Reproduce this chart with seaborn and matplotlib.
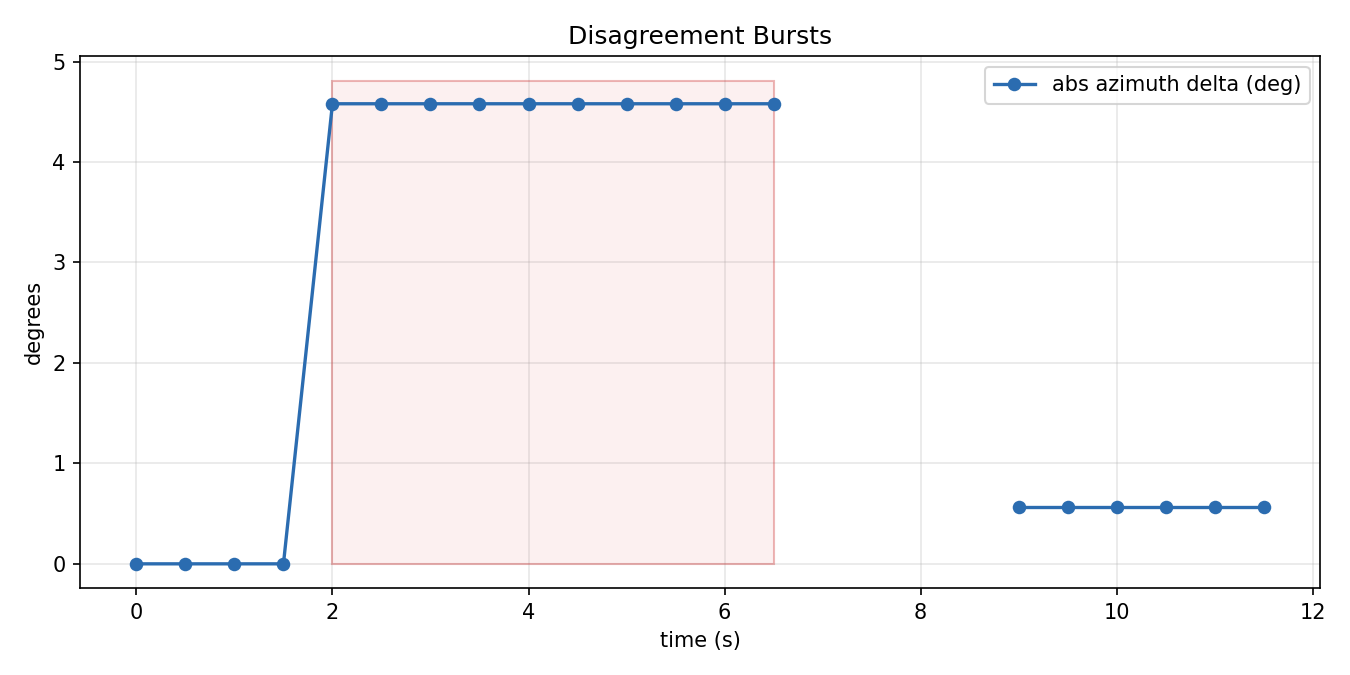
import numpy as np
import pandas as pd
import matplotlib
matplotlib.use("Agg")
import matplotlib.pyplot as plt
from matplotlib.patches import Rectangle
import seaborn as sns

time_a = [0.0, 0.5, 1.0, 1.5, 2.0, 2.5, 3.0, 3.5, 4.0, 4.5, 5.0, 5.5, 6.0, 6.5]
delta_a = [0.0, 0.0, 0.0, 0.0, 4.58, 4.58, 4.58, 4.58, 4.58, 4.58, 4.58, 4.58, 4.58, 4.58]
time_b = [9.0, 9.5, 10.0, 10.5, 11.0, 11.5]
delta_b = [0.57, 0.57, 0.57, 0.57, 0.57, 0.57]
burst_start = 2.0
burst_end = 6.5
burst_top = 4.81

color = "#2b6cb0"

fig, ax = plt.subplots(figsize=(9, 4.5), dpi=150)
fig.subplots_adjust(left=0.0593, right=0.9778, top=0.9163, bottom=0.1289)

ax.add_patch(Rectangle((burst_start, 0), burst_end - burst_start, burst_top,
                       facecolor=(0.86, 0.2, 0.2, 0.07),
                       edgecolor=(0.8, 0.2, 0.2, 0.35), linewidth=1.0, zorder=1))

df_a = pd.DataFrame({"t": time_a, "v": delta_a})
df_b = pd.DataFrame({"t": time_b, "v": delta_b})
sns.lineplot(data=df_a, x="t", y="v", ax=ax, color=color, marker="o",
             markersize=6.5, markeredgewidth=0, linewidth=1.6,
             label="abs azimuth delta (deg)", zorder=3)
sns.lineplot(data=df_b, x="t", y="v", ax=ax, color=color, marker="o",
             markersize=6.5, markeredgewidth=0, linewidth=1.6, zorder=3)

ax.autoscale_view()
ax.grid(True, alpha=0.3)
ax.set_axisbelow(True)
ax.set_title("Disagreement Bursts")
ax.set_xlabel("time (s)")
ax.set_ylabel("degrees")
ax.legend(loc="upper right")

fig.savefig("out.png", dpi=150)
